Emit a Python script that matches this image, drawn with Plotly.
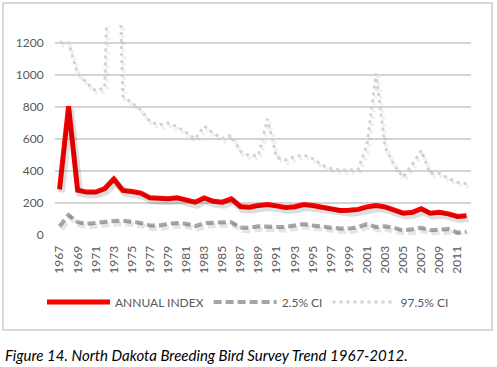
import plotly.graph_objects as go

years = list(range(1967, 2013))

annual_index = [285, 805, 280, 268, 268, 290, 350, 278, 272, 262,
                232, 226, 226, 232, 222, 205, 232, 211, 205, 226,
                178, 174, 185, 190, 182, 172, 177, 190, 184, 176,
                164, 153, 155, 160, 176, 184, 176, 160, 136, 142,
                164, 136, 142, 132, 116, 120]

ci_low = [55, 125, 80, 70, 76, 85, 88, 90, 85, 75,
          60, 60, 70, 75, 70, 55, 75, 75, 80, 80,
          47, 45, 55, 50, 50, 50, 56, 68, 60, 52,
          48, 40, 40, 50, 68, 50, 55, 45, 28, 35,
          45, 30, 35, 38, 15, 20]

ci_high = [1205, 1200, 1010, 950, 900, 920, 3000, 868, 825, 780,
           708, 688, 700, 677, 640, 600, 680, 635, 603, 622,
           522, 495, 497, 725, 485, 468, 490, 500, 478, 437,
           415, 405, 405, 410, 560, 1010, 550, 437, 362, 440,
           528, 384, 384, 353, 330, 320]

series_names = ["ANNUAL INDEX", "2.5% CI", "97.5% CI"]
y_ticks = [0, 200, 400, 600, 800, 1000, 1200]
caption = "Figure 14. North Dakota Breeding Bird Survey Trend 1967-2012."

W, H = 497, 367
L, R, T, B = 55, 26, 25, 132
PW, PH = W - L - R, H - T - B

X_RANGE = [1966.5, 2012.5]
Y_RANGE = [0, 1312]
# shadow offset (px) -> data units for the overlaid shadow axes
SH_DX = 2 * (X_RANGE[1] - X_RANGE[0]) / PW
SH_DY = 3 * (Y_RANGE[1] - Y_RANGE[0]) / PH

def px_x(x):
    return (x - L) / PW

def px_y(y):
    return (H - B - y) / PH

FONT = "Lato, Carlito, 'Liberation Sans', sans-serif"
GRAY_TXT = "#595959"

fig = go.Figure()

# soft shadows (Excel-style), drawn on slightly shifted overlay axes
fig.add_trace(go.Scatter(
    x=years, y=ci_high, mode="lines", showlegend=False, hoverinfo="skip",
    xaxis="x2", yaxis="y2",
    line=dict(color="rgba(0,0,0,0.06)", width=4, dash="3px,4px"),
))
fig.add_trace(go.Scatter(
    x=years, y=ci_low, mode="lines", showlegend=False, hoverinfo="skip",
    xaxis="x2", yaxis="y2",
    line=dict(color="rgba(0,0,0,0.10)", width=5, dash="8px,4px"),
))
fig.add_trace(go.Scatter(
    x=years, y=annual_index, mode="lines", showlegend=False, hoverinfo="skip",
    xaxis="x2", yaxis="y2",
    line=dict(color="rgba(0,0,0,0.13)", width=7),
))

fig.add_trace(go.Scatter(
    x=years, y=ci_high, mode="lines", name=series_names[2],
    line=dict(color="#d2d2d2", width=3, dash="3px,4px"),
))
fig.add_trace(go.Scatter(
    x=years, y=ci_low, mode="lines", name=series_names[1],
    line=dict(color="#a6a6a6", width=4, dash="8px,4px"),
))
fig.add_trace(go.Scatter(
    x=years, y=annual_index, mode="lines", name=series_names[0],
    line=dict(color="#ff0000", width=5),
))

fig.update_layout(
    width=W, height=H,
    margin=dict(l=L, r=R, t=T, b=B),
    paper_bgcolor="white", plot_bgcolor="white",
    font=dict(family=FONT, size=12, color=GRAY_TXT),
    showlegend=True,
    legend=dict(
        orientation="h", traceorder="reversed",
        x=px_x(42), xanchor="left",
        y=px_y(302), yanchor="middle",
        font=dict(family=FONT, size=12, color=GRAY_TXT),
        itemwidth=63, bgcolor="rgba(0,0,0,0)",
    ),
    xaxis=dict(
        range=X_RANGE, tickmode="array",
        tickvals=years[::2], ticktext=[str(y) for y in years[::2]],
        tickangle=-90, showgrid=False, zeroline=False,
        showline=False, ticks="outside", ticklen=5,
        tickcolor="rgba(0,0,0,0)",
        tickfont=dict(family=FONT, size=12, color=GRAY_TXT),
    ),
    yaxis=dict(
        range=Y_RANGE, tickmode="array", tickvals=y_ticks,
        showgrid=True, gridcolor="#d4d4d4", gridwidth=2,
        zeroline=False, showline=False,
        ticks="outside", ticklen=8, tickcolor="rgba(0,0,0,0)",
        tickfont=dict(family=FONT, size=12, color=GRAY_TXT),
    ),
    xaxis2=dict(
        overlaying="x", range=[X_RANGE[0] - SH_DX, X_RANGE[1] - SH_DX],
        visible=False, showgrid=False, zeroline=False,
    ),
    yaxis2=dict(
        overlaying="y", range=[Y_RANGE[0] + SH_DY, Y_RANGE[1] + SH_DY],
        visible=False, showgrid=False, zeroline=False,
    ),
    shapes=[dict(
        type="rect", xref="paper", yref="paper",
        x0=px_x(3), x1=px_x(492), y0=px_y(330), y1=px_y(3),
        line=dict(color="#d9d9d9", width=2), fillcolor="rgba(0,0,0,0)",
        layer="below",
    )],
    annotations=[dict(
        text=caption, xref="paper", yref="paper",
        x=px_x(3), xanchor="left", y=px_y(355), yanchor="middle",
        showarrow=False,
        font=dict(family=FONT, size=15, color="#000000", style="italic"),
    )],
)

fig.write_html("out.html", config={"displayModeBar": False},
               post_script="document.body.style.margin='0';")
